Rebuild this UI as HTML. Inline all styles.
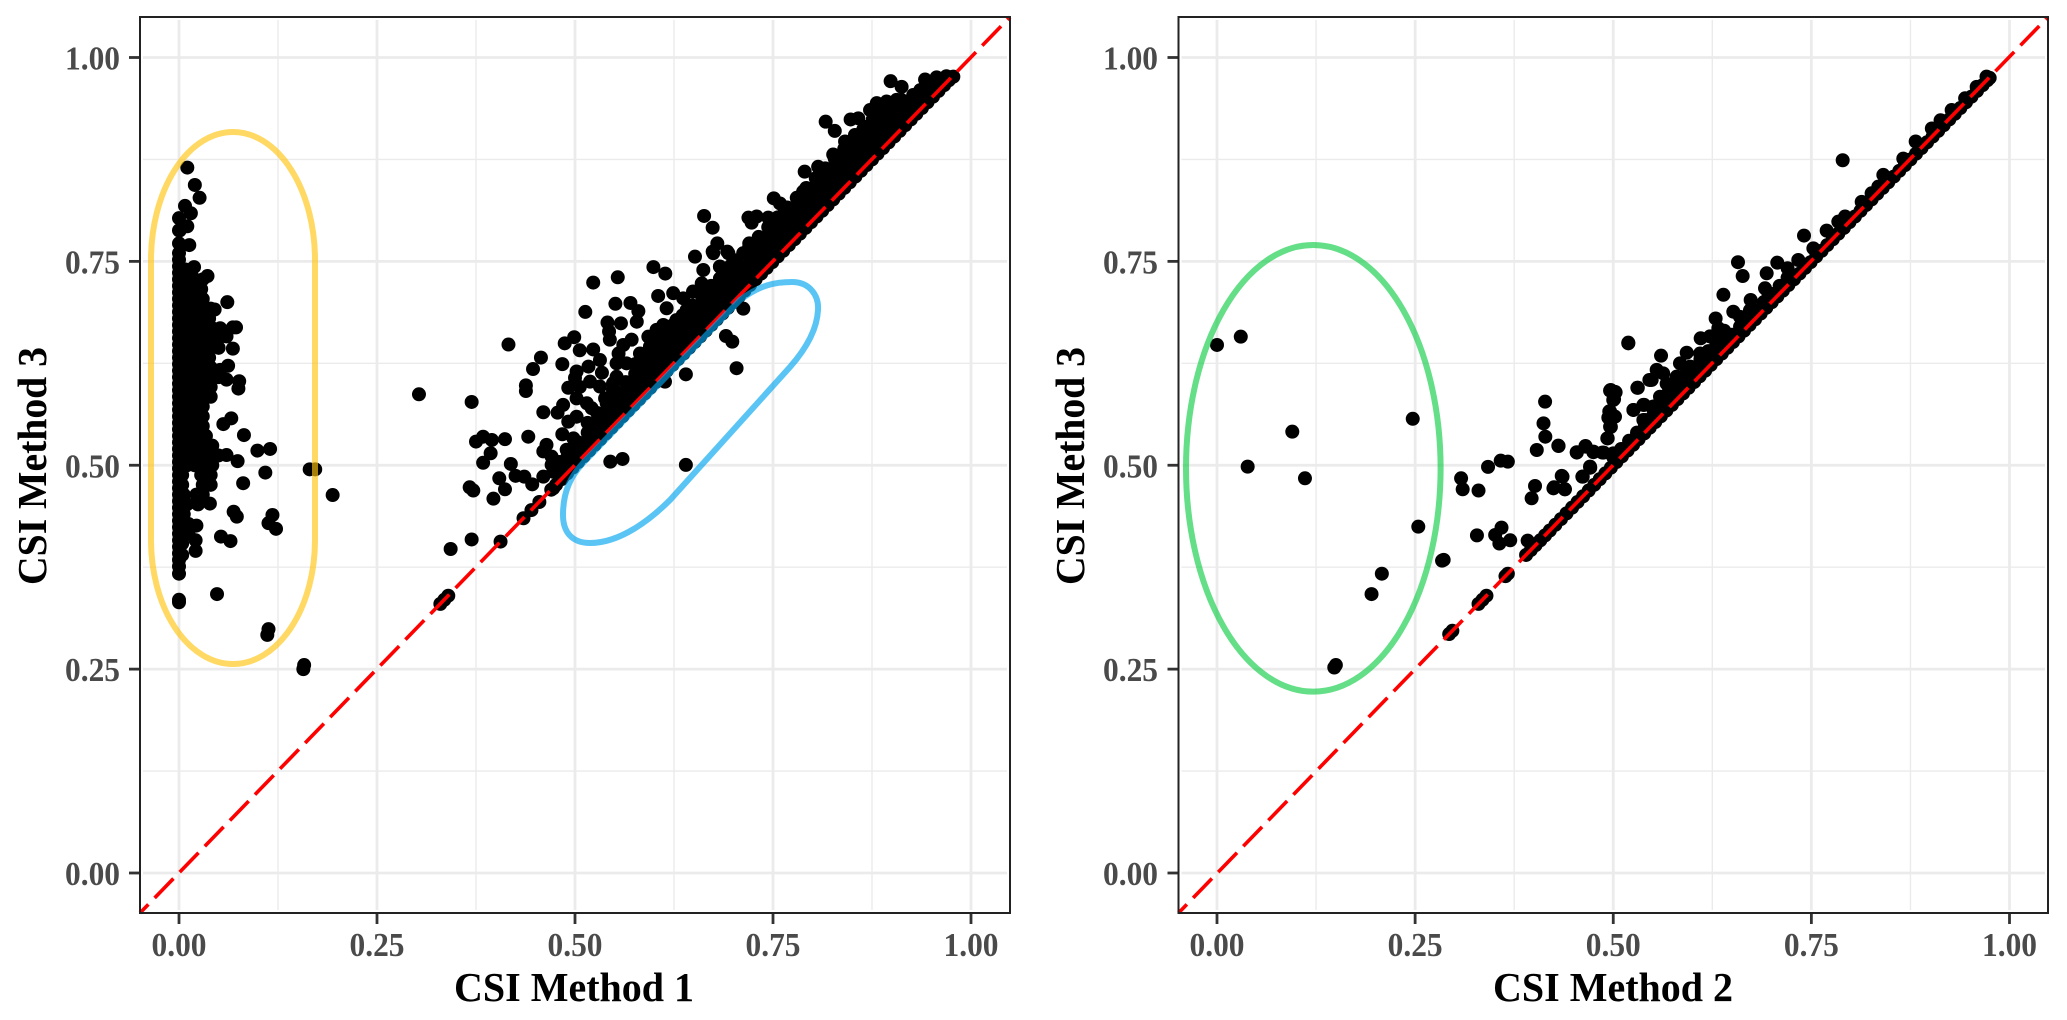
<!DOCTYPE html>
<html>
<head>
<meta charset="utf-8">
<title>CSI method comparison</title>
<style>
html,body{margin:0;padding:0;background:#fff;}
svg{display:block;}
text{font-family:"Liberation Serif",serif;}
</style>
</head>
<body>
<svg id="figure" width="2067" height="1020" viewBox="0 0 2067 1020" xmlns="http://www.w3.org/2000/svg">
  <rect x="0" y="0" width="2067" height="1020" fill="#ffffff"/>
  <g id="panelA"></g>
  <g id="panelB"></g>
  <path d="M151 260 A82 128 0 0 1 315 260 L315 540 A82 124 0 0 1 151 540 Z" fill="none" stroke="#ffc511" stroke-opacity="0.65" stroke-width="6"/>
  <path d="M563 515 C563 490 572 475 583 463 L740 300 C760 285 775 282 792 282 C810 282 819 296 818 310 C817 330 805 350 790 367 L670 500 C650 520 620 543 590 543 C572 543 563 532 563 515 Z" fill="none" stroke="#01a6f0" stroke-opacity="0.65" stroke-width="6"/>
  <ellipse cx="1313.3" cy="468.3" rx="127.3" ry="223.3" fill="none" stroke="#11cd47" stroke-opacity="0.65" stroke-width="6"/>
  <rect x="140" y="17" width="870" height="896" fill="none" stroke="#222222" stroke-width="2"/>
  <rect x="1178.5" y="17" width="869.5" height="896" fill="none" stroke="#222222" stroke-width="2"/>
</svg>
<script>
const tickValues = [0, 0.25, 0.5, 0.75, 1];
const tickLabels = ["0.00", "0.25", "0.50", "0.75", "1.00"];
const minorTickValues = [0.125, 0.375, 0.625, 0.875];
const axisLimits = [-0.05, 1.05];

const panelAZeroColumn = [0.332,0.335,0.367,0.376,0.384,0.392,0.4,0.408,0.416,0.424,0.432,0.44,0.448,0.456,0.464,0.472,0.48,0.488,0.496,0.504,0.512,0.52,0.528,0.536,0.544,0.552,0.56,0.568,0.576,0.584,0.592,0.6,0.608,0.616,0.624,0.632,0.64,0.648,0.656,0.664,0.672,0.68,0.688,0.696,0.704,0.712,0.72,0.728,0.736,0.744,0.752,0.76,0.772,0.788,0.803];

const panelADiagonal = [0.33,0.335,0.34,0.435,0.445,0.455,0.47,0.476,0.483,0.49,0.497,0.504,0.511,0.518,0.525,0.532,0.539,0.546,0.553,0.56,0.567,0.574,0.581,0.588,0.595,0.602,0.609,0.616,0.623,0.63,0.637,0.644,0.651,0.658,0.665,0.672,0.679,0.686,0.693,0.7,0.707,0.714,0.721,0.728,0.735,0.742,0.749,0.756,0.763,0.77,0.777,0.784,0.791,0.798,0.805,0.812,0.819,0.826,0.833,0.84,0.847,0.854,0.861,0.868,0.875,0.882,0.889,0.896,0.903,0.91,0.917,0.924,0.931,0.938,0.945,0.952,0.959,0.966,0.972,0.976];

const panelALeftBlock = [
[0.008,0.74],[0.016,0.74],
[0.01,0.728],[0.02,0.728],[0.03,0.728],
[0.008,0.716],[0.018,0.716],[0.028,0.716],
[0.008,0.704],[0.018,0.704],[0.03,0.704],
[0.01,0.692],[0.02,0.692],[0.03,0.692],[0.04,0.692],
[0.01,0.68],[0.02,0.68],[0.03,0.68],[0.038,0.68],
[0.01,0.668],[0.02,0.668],[0.03,0.668],[0.042,0.668],[0.052,0.668],
[0.01,0.656],[0.02,0.656],[0.03,0.656],[0.04,0.656],[0.05,0.656],
[0.01,0.644],[0.02,0.644],[0.03,0.644],[0.04,0.644],[0.05,0.644],
[0.01,0.632],[0.02,0.632],[0.03,0.632],[0.038,0.632],
[0.01,0.62],[0.02,0.62],[0.03,0.62],[0.04,0.62],
[0.01,0.608],[0.02,0.608],[0.03,0.608],[0.04,0.608],[0.05,0.608],
[0.01,0.596],[0.02,0.596],[0.03,0.596],[0.04,0.596],
[0.01,0.584],[0.02,0.584],[0.03,0.584],[0.04,0.584],
[0.01,0.572],[0.02,0.572],[0.03,0.572],
[0.01,0.56],[0.02,0.56],[0.03,0.56],
[0.01,0.548],[0.02,0.548],[0.03,0.548],
[0.01,0.536],[0.02,0.536],[0.03,0.536],[0.034,0.536],
[0.01,0.524],[0.02,0.524],[0.03,0.524],[0.042,0.524],
[0.01,0.512],[0.02,0.512],[0.03,0.512],[0.04,0.512],[0.05,0.512],
[0.01,0.5],[0.02,0.5],[0.03,0.5],[0.042,0.5],
[0.004,0.488],[0.028,0.488],[0.035,0.488],[0.04,0.488],
[0.004,0.476],[0.03,0.476],[0.04,0.476],
[0.006,0.464],[0.022,0.464],[0.03,0.464],
[0.01,0.452],[0.024,0.452],
[0.006,0.44],[0.006,0.428],[0.012,0.428],[0.006,0.416],[0.012,0.416],[0.004,0.404],[0.004,0.39]
];

const panelALeftOutliers = [
[0.0105,0.865],[0.02,0.8437],[0.026,0.828],[0.0076,0.818],[0.015,0.809],[0.0105,0.793],[0.001,0.788],[0.013,0.77],[0.019,0.743],[0.036,0.732],
[0.061,0.7],[0.045,0.691],[0.072,0.669],[0.068,0.669],[0.06,0.658],[0.068,0.643],[0.062,0.622],[0.052,0.617],[0.076,0.603],[0.06,0.605],[0.075,0.594],
[0.066,0.5575],[0.056,0.5505],[0.082,0.537],[0.099,0.518],[0.115,0.52],[0.06,0.5125],[0.074,0.505],[0.109,0.491],[0.165,0.495],[0.172,0.495],[0.194,0.4635],
[0.081,0.478],[0.039,0.453],[0.024,0.455],[0.069,0.443],[0.073,0.437],[0.118,0.439],[0.113,0.429],[0.1225,0.422],[0.022,0.426],[0.053,0.4125],[0.065,0.407],
[0.021,0.408],[0.021,0.395],[0.048,0.342],[0.113,0.299],[0.1115,0.292],[0.158,0.255],[0.157,0.25]
];

const panelAMiddle = [
[0.303,0.587],[0.3695,0.5776],[0.416,0.648],[0.457,0.632],[0.447,0.618],[0.438,0.598],[0.438,0.591],[0.484,0.624],[0.487,0.6495],[0.499,0.657],[0.506,0.641],
[0.523,0.724],[0.554,0.7305],[0.513,0.688],[0.551,0.698],[0.599,0.743],[0.614,0.735],[0.57,0.699],[0.58,0.689],[0.578,0.676],[0.558,0.674],[0.541,0.675],
[0.543,0.664],[0.544,0.654],[0.5715,0.654],[0.561,0.6475],[0.523,0.642],[0.5315,0.629],[0.517,0.621],[0.555,0.637],[0.5525,0.625],[0.565,0.625],[0.534,0.6135],
[0.502,0.615],[0.5,0.607],[0.4915,0.595],[0.506,0.596],[0.519,0.6025],[0.5315,0.5965],[0.548,0.6005],[0.5525,0.6085],[0.569,0.6005],[0.548,0.592],[0.574,0.588],
[0.502,0.582],[0.515,0.576],[0.521,0.57],[0.538,0.582],[0.544,0.574],[0.46,0.565],[0.478,0.5645],[0.485,0.574],[0.502,0.5595],[0.4915,0.5535],[0.5315,0.5535],
[0.542,0.5555],[0.5525,0.5637],[0.565,0.576],[0.484,0.538],[0.498,0.533],[0.523,0.538],[0.508,0.525],[0.464,0.525],[0.46,0.517],[0.4895,0.519],[0.4705,0.5105],
[0.4705,0.5005],[0.4895,0.5085],[0.502,0.5147],[0.46,0.486],[0.4725,0.492],[0.4725,0.4717],[0.441,0.535],[0.4116,0.532],[0.395,0.531],[0.384,0.535],[0.375,0.529],
[0.3935,0.5147],[0.384,0.503],[0.419,0.5016],[0.425,0.487],[0.436,0.486],[0.446,0.4766],[0.4044,0.484],[0.4116,0.4705],[0.367,0.473],[0.3716,0.469],[0.397,0.459],
[0.406,0.4064],[0.3695,0.409],[0.343,0.3973],[0.5446,0.5044],[0.56,0.5077],[0.64,0.5004],[0.64,0.6115],[0.6136,0.6025],[0.704,0.619],[0.6906,0.6585],[0.6986,0.6516],[0.7125,0.692],
[0.603,0.666],[0.5926,0.6577],[0.6115,0.672],[0.582,0.637],[0.5946,0.6455],[0.607,0.6536],[0.62,0.666],[0.628,0.678],[0.6157,0.6925],[0.605,0.7076],[0.624,0.711],
[0.6367,0.7047],[0.649,0.713],[0.66,0.723],[0.662,0.7395],[0.6515,0.7558],[0.683,0.7436],[0.683,0.727],[0.6746,0.76],[0.696,0.7354],[0.7125,0.76],[0.6936,0.76],
[0.666,0.711],[0.679,0.711],[0.6536,0.6945],[0.666,0.6945],[0.641,0.6904],[0.687,0.6986],[0.6326,0.662],[0.645,0.674],[0.658,0.682],[0.6746,0.6904],[0.599,0.633],
[0.616,0.6414],[0.6283,0.6495],[0.582,0.621],[0.5946,0.621],[0.611,0.629],[0.582,0.6046],[0.5946,0.6087],[0.565,0.588],[0.578,0.592],[0.557,0.572],[0.548,0.5555],
[0.536,0.547],[0.523,0.531],[0.5147,0.519],[0.498,0.5024],[0.485,0.486],[0.5905,0.596],[0.603,0.617]
];

const panelAUpper = [
[0.8985,0.971],[0.9124,0.964],[0.942,0.973],[0.9566,0.9757],[0.969,0.977],[0.9777,0.9765],[0.927,0.954],[0.881,0.944],[0.8725,0.9356],[0.8935,0.946],[0.906,0.948],
[0.881,0.9275],[0.8977,0.9315],[0.9187,0.94],[0.9356,0.952],[0.948,0.964],[0.8165,0.9213],[0.828,0.91],[0.848,0.924],[0.8577,0.9254],[0.868,0.915],[0.841,0.897],
[0.8535,0.905],[0.885,0.915],[0.826,0.881],[0.843,0.8825],[0.86,0.8907],[0.8767,0.899],[0.8977,0.907],[0.9145,0.9234],[0.9314,0.9356],[0.79,0.86],[0.807,0.866],
[0.8346,0.866],[0.8514,0.87],[0.868,0.8784],[0.809,0.854],[0.826,0.854],[0.843,0.854],[0.788,0.8355],[0.803,0.8416],[0.7988,0.829],[0.8178,0.8335],[0.8346,0.8457],
[0.751,0.8273],[0.7588,0.821],[0.765,0.813],[0.784,0.811],[0.801,0.817],[0.719,0.8036],[0.7294,0.805],[0.723,0.7975],[0.744,0.8036],[0.7567,0.8],[0.748,0.7844],
[0.7672,0.7967],[0.784,0.7967],[0.663,0.8057],[0.6738,0.7913],[0.6797,0.772],[0.6738,0.762],[0.6923,0.762],[0.72,0.772],[0.7357,0.774],[0.7125,0.76],[0.683,0.7435],
[0.683,0.729],[0.7,0.7517],[0.7083,0.735],[0.7293,0.76],[0.7588,0.768],[0.742,0.764],[0.6957,0.719],[0.7125,0.719],[0.7293,0.739],[0.666,0.711],[0.683,0.707],
[0.6578,0.6945],[0.6746,0.6945],[0.6957,0.7027],[0.742,0.7517]
];

const panelAInner = [
[0.48,0.492],[0.48,0.504],[0.492,0.504],[0.492,0.516],[0.504,0.516],[0.504,0.528],
[0.516,0.528],[0.516,0.54],[0.516,0.552],[0.528,0.54],[0.528,0.552],[0.528,0.564],
[0.54,0.552],[0.54,0.564],[0.54,0.576],[0.552,0.564],[0.552,0.576],[0.552,0.59],
[0.564,0.576],[0.564,0.588],[0.564,0.602],[0.576,0.588],[0.576,0.6],[0.576,0.612],[0.576,0.624],
[0.588,0.6],[0.588,0.612],[0.588,0.624],[0.588,0.636],[0.6,0.612],[0.6,0.624],[0.6,0.636],[0.6,0.648],
[0.612,0.624],[0.612,0.636],[0.612,0.648],[0.612,0.66],[0.624,0.636],[0.624,0.648],[0.624,0.66],[0.624,0.672],
[0.636,0.648],[0.636,0.66],[0.636,0.672],[0.636,0.684],[0.648,0.66],[0.648,0.672],[0.648,0.684],[0.648,0.696],
[0.66,0.672],[0.66,0.684],[0.66,0.696],[0.66,0.708],[0.672,0.684],[0.672,0.696],[0.672,0.708],[0.672,0.72],
[0.684,0.696],[0.684,0.708],[0.684,0.72],[0.696,0.708],[0.696,0.72],[0.696,0.732],[0.696,0.744],
[0.708,0.72],[0.708,0.732],[0.708,0.744],[0.72,0.732],[0.72,0.744],[0.72,0.756],[0.72,0.768],
[0.732,0.744],[0.732,0.756],[0.732,0.768],[0.732,0.78],[0.744,0.756],[0.744,0.768],[0.744,0.78],[0.744,0.792],
[0.756,0.768],[0.756,0.78],[0.756,0.792],[0.756,0.804],[0.768,0.78],[0.768,0.792],[0.768,0.804],[0.768,0.816],
[0.78,0.792],[0.78,0.804],[0.78,0.816],[0.78,0.828],[0.792,0.804],[0.792,0.816],[0.792,0.828],[0.792,0.84],
[0.804,0.816],[0.804,0.828],[0.804,0.84],[0.804,0.852],[0.816,0.828],[0.816,0.84],[0.816,0.852],[0.816,0.864],
[0.828,0.84],[0.828,0.852],[0.828,0.864],[0.828,0.876],[0.84,0.852],[0.84,0.864],[0.84,0.876],[0.84,0.888],
[0.852,0.864],[0.852,0.876],[0.852,0.888],[0.852,0.9],[0.864,0.876],[0.864,0.888],[0.864,0.9],[0.864,0.912],
[0.876,0.888],[0.876,0.9],[0.876,0.912],[0.876,0.924],[0.888,0.9],[0.888,0.912],[0.888,0.924],[0.888,0.936],
[0.9,0.912],[0.9,0.924],[0.9,0.936],[0.912,0.924],[0.912,0.936],[0.912,0.948],[0.924,0.936],[0.924,0.948],
[0.936,0.948],[0.936,0.96],[0.948,0.96],[0.948,0.968],[0.96,0.972]
];

const panelBDiagonal = [0.293,0.297,0.33,0.335,0.34,0.364,0.367,0.39,0.396,0.402,0.408,0.414,0.42,0.427,0.434,0.441,0.448,0.455,0.462,0.469,0.476,0.483,0.49,0.497,0.504,0.511,0.518,0.525,0.532,0.539,0.546,0.553,0.56,0.567,0.574,0.581,0.588,0.595,0.602,0.609,0.616,0.623,0.63,0.637,0.644,0.651,0.658,0.665,0.672,0.679,0.686,0.693,0.7,0.707,0.714,0.721,0.728,0.735,0.742,0.749,0.756,0.763,0.77,0.777,0.784,0.791,0.798,0.805,0.812,0.819,0.826,0.833,0.84,0.847,0.854,0.861,0.868,0.875,0.882,0.889,0.896,0.903,0.91,0.917,0.924,0.931,0.938,0.945,0.952,0.959,0.966,0.972,0.975];

const panelBOutliers = [
[0,0.6475],[0.03,0.6577],[0.095,0.5412],[0.0387,0.4983],[0.111,0.484],[0.247,0.557],[0.254,0.4247],[0.208,0.367],[0.195,0.342],[0.15,0.255],[0.148,0.252],
[0.286,0.384],[0.284,0.383],[0.308,0.484],[0.31,0.4705],[0.33,0.469],[0.342,0.498],[0.358,0.5056],[0.367,0.5044],[0.4035,0.5187],[0.414,0.578],[0.412,0.5514],
[0.4143,0.535],[0.431,0.5236],[0.4013,0.4746],[0.397,0.4595],[0.436,0.486],[0.4245,0.4717],[0.439,0.4705],[0.4615,0.486],[0.471,0.497],[0.454,0.5155],[0.465,0.5236],
[0.475,0.5167],[0.488,0.5155],[0.493,0.533],[0.497,0.547],[0.498,0.5596],[0.495,0.566],[0.501,0.581],[0.496,0.5915],[0.503,0.5895],[0.328,0.414],[0.351,0.4145],
[0.359,0.4235],[0.3563,0.404],[0.37,0.408],[0.392,0.4075],[0.519,0.6495],[0.531,0.595],[0.5255,0.5678],[0.539,0.574],[0.5456,0.6046],[0.538,0.5555]
];

const panelBUpper = [
[0.7895,0.874],[0.7407,0.7816],[0.6574,0.749],[0.6633,0.732],[0.707,0.7484],[0.6936,0.7354],[0.72,0.7415],[0.7335,0.7517],[0.7525,0.766],[0.7693,0.7877],[0.784,0.7987],
[0.7925,0.805],[0.8135,0.823],[0.826,0.8335],[0.8408,0.856],[0.8345,0.8416],[0.866,0.876],[0.8816,0.897],[0.902,0.913],[0.913,0.923],[0.927,0.9356],[0.944,0.95],
[0.9586,0.964],[0.971,0.9765],[0.639,0.709],[0.6734,0.7027],[0.6915,0.717],[0.6957,0.711],[0.6515,0.6883],[0.6292,0.68],[0.6326,0.668],[0.66,0.682],[0.6725,0.69],
[0.6103,0.6557],[0.5927,0.638],[0.6095,0.637],[0.622,0.658],[0.519,0.6503],[0.5603,0.6344],[0.5548,0.617],[0.563,0.6127],[0.5485,0.6046],[0.5842,0.625],[0.5304,0.595],
[0.4967,0.5923],[0.5022,0.59],[0.5,0.58],[0.496,0.566],[0.4938,0.5584],[0.5022,0.5596],[0.496,0.5473],[0.4925,0.533],[0.5254,0.5678],[0.538,0.574],[0.559,0.584],
[0.54,0.5555],[0.5296,0.535],[0.5674,0.6],[0.58,0.6086],[0.597,0.621],[0.6305,0.645],[0.5716,0.58],[0.5506,0.572],[0.5884,0.6],[0.6053,0.617],[0.622,0.637],[0.639,0.658],
[0.5,0.5146],[0.4652,0.5228],[0.4539,0.516],[0.4749,0.516],[0.4862,0.5155],[0.4307,0.524],[0.4707,0.4983],[0.461,0.486],[0.435,0.487],[0.4252,0.473],[0.439,0.4705]
];

const panelBInner = [
[0.5,0.51],[0.51,0.52],[0.52,0.53],[0.53,0.54],[0.54,0.55],[0.55,0.56],[0.55,0.57],[0.56,0.57],[0.56,0.58],[0.57,0.58],[0.57,0.59],[0.58,0.59],[0.58,0.6],
[0.59,0.6],[0.59,0.61],[0.6,0.61],[0.6,0.62],[0.61,0.62],[0.61,0.63],[0.62,0.63],[0.62,0.64],[0.63,0.64],[0.63,0.65],[0.64,0.65],[0.64,0.665],[0.65,0.66],
[0.66,0.67],[0.67,0.68],[0.68,0.69],[0.69,0.7],[0.7,0.71],[0.71,0.72],[0.72,0.73]
];

const xAxisTitleA = "CSI Method 1";
const xAxisTitleB = "CSI Method 2";
const yAxisTitle = "CSI Method 3";

const SVG_NS = "http://www.w3.org/2000/svg";

function makeEl(tag, parent) {
  const el = document.createElementNS(SVG_NS, tag);
  parent.appendChild(el);
  return el;
}

function drawPanel(group, xZero, xUnit, frame, points, titleText, titleCenter, yTitleX, yLabelRight) {
  const xScale = function (v) { return xZero + xUnit * v; };
  const yScale = function (v) { return 873 - 815.5 * v; };

  tickValues.concat(minorTickValues).forEach(function (v) {
    const major = tickValues.indexOf(v) >= 0;
    const vLine = makeEl("line", group);
    
    
    vLine.setAttribute("x1", xScale(v));
    vLine.setAttribute("x2", xScale(v));
    vLine.setAttribute("y1", frame.top + 3);
    vLine.setAttribute("y2", frame.bottom - 3);
    vLine.setAttribute("stroke", "#ebebeb");
    vLine.setAttribute("stroke-width", major ? 2.8 : 1.4);
    const hLine = makeEl("line", group);
    
    
    hLine.setAttribute("x1", frame.left + 3);
    hLine.setAttribute("x2", frame.right - 3);
    hLine.setAttribute("y1", yScale(v));
    hLine.setAttribute("y2", yScale(v));
    hLine.setAttribute("stroke", "#ebebeb");
    hLine.setAttribute("stroke-width", major ? 2.8 : 1.4);
  });

  points.forEach(function (p) {
    const dot = makeEl("circle", group);
    
    
    dot.setAttribute("cx", xScale(p[0]));
    dot.setAttribute("cy", yScale(p[1]));
    dot.setAttribute("r", 7);
    dot.setAttribute("fill", "#000000");
  });

  const refLine = makeEl("line", group);
  
  
  refLine.setAttribute("x1", frame.left);
  refLine.setAttribute("y1", frame.bottom);
  refLine.setAttribute("x2", frame.right);
  refLine.setAttribute("y2", frame.top);
  refLine.setAttribute("stroke", "#ff0000");
  refLine.setAttribute("stroke-width", 3.6);
  refLine.setAttribute("stroke-dasharray", "27 9");
  refLine.setAttribute("stroke-dashoffset", 15);

  tickValues.forEach(function (v, i) {
    const xTick = makeEl("line", group);
    
    
    xTick.setAttribute("x1", xScale(v));
    xTick.setAttribute("x2", xScale(v));
    xTick.setAttribute("y1", frame.bottom);
    xTick.setAttribute("y2", frame.bottom + 11);
    xTick.setAttribute("stroke", "#333333");
    xTick.setAttribute("stroke-width", 2.8);

    const yTick = makeEl("line", group);
    
    
    yTick.setAttribute("x1", frame.left - 11);
    yTick.setAttribute("x2", frame.left);
    yTick.setAttribute("y1", yScale(v));
    yTick.setAttribute("y2", yScale(v));
    yTick.setAttribute("stroke", "#333333");
    yTick.setAttribute("stroke-width", 2.8);

    const xLabel = makeEl("text", group);
    
    
    xLabel.setAttribute("x", xScale(v));
    xLabel.setAttribute("y", 956);
    xLabel.setAttribute("text-anchor", "middle");
    xLabel.setAttribute("font-size", 34);
    xLabel.setAttribute("font-weight", "bold");
    xLabel.setAttribute("fill", "#4a4a4a");
    xLabel.setAttribute("textLength", 55);
    xLabel.setAttribute("lengthAdjust", "spacingAndGlyphs");
    xLabel.textContent = tickLabels[i];

    const yLabel = makeEl("text", group);
    
    
    yLabel.setAttribute("x", yLabelRight);
    yLabel.setAttribute("y", yScale(v) + 12);
    yLabel.setAttribute("text-anchor", "end");
    yLabel.setAttribute("font-size", 34);
    yLabel.setAttribute("font-weight", "bold");
    yLabel.setAttribute("fill", "#4a4a4a");
    yLabel.setAttribute("textLength", 55);
    yLabel.setAttribute("lengthAdjust", "spacingAndGlyphs");
    yLabel.textContent = tickLabels[i];
  });

  const xTitle = makeEl("text", group);
  
  
  xTitle.setAttribute("x", titleCenter);
  xTitle.setAttribute("y", 1001);
  xTitle.setAttribute("text-anchor", "middle");
  xTitle.setAttribute("font-size", 41);
  xTitle.setAttribute("font-weight", "bold");
  xTitle.setAttribute("fill", "#000000");
  xTitle.setAttribute("textLength", 240);
  xTitle.setAttribute("lengthAdjust", "spacingAndGlyphs");
  xTitle.textContent = titleText;

  const yTitle = makeEl("text", group);
  
  
  yTitle.setAttribute("x", 0);
  yTitle.setAttribute("y", 0);
  yTitle.setAttribute("transform", "translate(" + yTitleX + ",466) rotate(-90)");
  yTitle.setAttribute("text-anchor", "middle");
  yTitle.setAttribute("font-size", 41);
  yTitle.setAttribute("font-weight", "bold");
  yTitle.setAttribute("fill", "#000000");
  yTitle.setAttribute("textLength", 238);
  yTitle.setAttribute("lengthAdjust", "spacingAndGlyphs");
  yTitle.textContent = yAxisTitle;
}

const onDiagonal = function (values) { return values.map(function (v) { return [v, v]; }); };
const onZeroColumn = function (values) { return values.map(function (v) { return [0, v]; }); };

const allPointsA = onDiagonal(panelADiagonal)
  .concat(onZeroColumn(panelAZeroColumn), panelALeftBlock, panelALeftOutliers, panelAMiddle, panelAUpper, panelAInner);
const allPointsB = onDiagonal(panelBDiagonal).concat(panelBOutliers, panelBUpper, panelBInner);

drawPanel(document.getElementById("panelA"), 179, 792,
  { left: 140, right: 1010, top: 17, bottom: 913 },
  allPointsA, xAxisTitleA, 574, 46, 120);
drawPanel(document.getElementById("panelB"), 1217, 792.5,
  { left: 1178.5, right: 2048, top: 17, bottom: 913 },
  allPointsB, xAxisTitleB, 1613, 1084, 1158);
</script>
</body>
</html>
